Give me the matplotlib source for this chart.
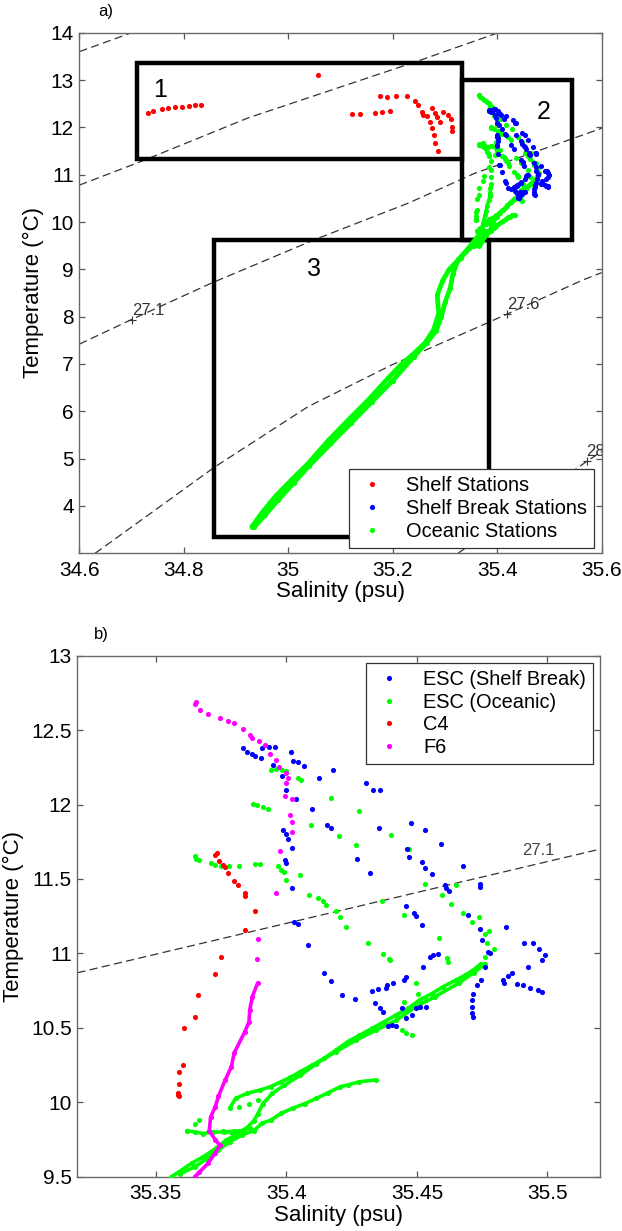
import matplotlib
matplotlib.use("Agg")
import matplotlib.pyplot as plt
from matplotlib.lines import Line2D
from matplotlib.patches import Rectangle
from matplotlib.ticker import FuncFormatter

plt.rcParams['font.family'] = ['Liberation Sans', 'DejaVu Sans']

# ---------------- data ----------------
# ESC shelf break stations (blue)
sb_S = [35.3835,35.3848,35.3867,35.388,35.3905,35.3933,35.3956,35.3902,35.3949,35.4017,35.4026,35.4045,35.4068,
        35.3985,35.3997,35.4036,35.4125,35.4177,35.4307,35.4332,35.436,35.41,35.3988,35.4,35.4006,35.402,35.3995,35.40,
        35.402,35.4154,35.417,35.4355,35.4476,35.453,35.4591,35.4464,35.447,35.4521,35.453,35.4556,35.4676,35.427,35.432,
        35.4606,35.4613,35.4622,35.474,35.474,35.4457,35.4489,35.4498,35.452,35.4695,35.4842,35.4743,35.4749,35.4772,35.478,
        35.4912,35.4944,35.4969,35.4989,35.498,35.4925,35.4549,35.4562,35.4581,35.4525,35.4762,35.403,35.4045,35.4084,
        35.4145,35.417,35.4866,35.485,35.483,35.4833,35.4882,35.4905,35.4935,35.4965,35.498,35.4745,35.473,35.4715,35.471,
        35.471,35.471,35.4715,35.446,35.445,35.441,35.4387,35.438,35.435,35.433,35.434,35.4357,35.437,35.4212,35.4264,
        35.4443,35.4497,35.451,35.4534,35.448,35.4457,35.4406,35.439,35.442]
sb_T = [12.377,12.354,12.34,12.325,12.377,12.388,12.388,12.316,12.264,12.35,12.293,12.283,12.258,
        12.19,12.10,12.04,12.18,12.23,12.145,12.10,12.096,11.97,11.83,11.80,11.77,11.71,11.63,11.61,
        11.44,11.86,11.84,11.84,11.876,11.83,11.733,11.704,11.647,11.614,11.576,11.536,11.585,11.634,11.54,
        11.457,11.44,11.417,11.464,11.445,11.316,11.27,11.248,11.188,11.255,11.176,11.165,11.087,11.008,11.0,
        11.071,11.071,11.031,10.986,10.955,10.91,10.975,10.986,10.997,10.91,10.91,11.213,11.197,11.056,
        10.87,10.816,10.866,10.848,10.82,10.80,10.795,10.79,10.77,10.754,10.742,10.82,10.787,10.73,10.687,
        10.642,10.597,10.575,10.84,10.82,10.80,10.787,10.77,10.758,10.75,10.664,10.63,10.608,10.72,10.693,
        10.63,10.63,10.642,10.642,10.586,10.563,10.52,10.512,10.512]

# ESC oceanic stations (green), scattered points
oc_S = [35.3652,35.3653,35.3667,35.3713,35.3728,35.375,35.378,35.3819,35.388,35.390,
        35.3873,35.3886,35.3909,35.393,35.3943,35.3962,35.3982,35.4,35.4045,35.4058,
        35.417,35.4278,35.4096,35.42,35.4268,35.4402,35.397,35.3978,35.399,35.4,35.4054,
        35.4085,35.4123,35.414,35.4153,35.419,35.4206,35.423,35.4313,35.4397,
        35.4368,35.4449,35.4468,35.453,35.4648,35.4596,35.4632,35.4676,35.4712,35.4736,35.4585,35.4759,35.4768,
        35.4778,35.4797,35.4759,35.437,35.4393,35.4615,35.4618,35.4497,35.4505,35.4534,35.445,35.4443,35.4457,35.448,
        35.362,35.365,35.3667,35.3757,35.3788,35.3818,35.382,35.3856,35.389]
oc_T = [11.652,11.634,11.63,11.61,11.596,11.59,11.59,11.59,11.603,11.603,
        12.007,11.995,11.984,11.968,12.235,12.24,12.235,12.226,12.18,12.168,
        12.047,11.955,11.865,11.79,11.73,11.793,11.585,11.56,11.55,11.49,11.53,
        11.395,11.372,11.35,11.328,11.283,11.246,11.18,11.067,10.955,
        11.351,11.257,11.70,11.468,11.457,11.39,11.33,11.27,11.21,11.243,11.103,11.13,11.069,
        11.15,11.031,10.975,10.993,10.964,10.97,10.944,10.80,10.73,10.687,10.675,10.485,10.463,10.45,
        9.81,9.857,9.88,9.81,9.80,9.81,9.97,9.99,10.015]

# ESC oceanic dense profile bands (green)
band1_S = [35.4745,35.4717,35.4685,35.4648,35.46,35.4557,35.451,35.4466,35.442,35.4374,35.4328,35.428,35.4235,
           35.419,35.4144,35.41,35.4053,35.4015,35.398,35.394,35.39,35.385,35.3806,35.3783]
band1_T = [10.93,10.89,10.854,10.82,10.776,10.73,10.687,10.63,10.586,10.54,10.496,10.45,10.407,
           10.35,10.295,10.25,10.205,10.167,10.138,10.105,10.082,10.06,10.026,9.96]
band2_S = [35.4762,35.4717,35.466,35.457,35.4497,35.442,35.4344,35.4268,35.419,35.4115,35.4053,35.3993,35.3947,
           35.391,35.389,35.3876,35.3852,35.3815,35.377,35.373,35.3682,35.3637,35.359,35.356]
band2_T = [10.93,10.87,10.80,10.71,10.642,10.55,10.485,10.418,10.34,10.26,10.18,10.116,10.06,
           9.99,9.92,9.877,9.834,9.79,9.746,9.69,9.634,9.59,9.534,9.50]
band3_S = [35.4344,35.428,35.4235,35.4207,35.416,35.4115,35.407,35.4024,35.398,35.394,35.3906,35.3876,35.383,
           35.3785,35.374,35.3694,35.365,35.3594]
band3_T = [10.15,10.138,10.116,10.105,10.064,10.026,9.99,9.96,9.925,9.88,9.858,9.81,9.78,
           9.735,9.68,9.62,9.567,9.52]
band4_S = [35.362,35.365,35.368,35.372,35.376,35.380,35.3835,35.386]
band4_T = [9.81,9.80,9.79,9.80,9.80,9.805,9.81,9.83]

# C4 (red)
c4_S = [35.3728,35.3735,35.3743,35.3758,35.3766,35.3778,35.380,35.3816,35.384,35.384,35.388,35.3842,35.375,
        35.3728,35.366,35.3652,35.361,35.3606,35.359,35.359,35.3587,35.3584,35.359]
c4_T = [11.663,11.674,11.618,11.596,11.58,11.54,11.484,11.462,11.406,11.388,11.283,11.16,10.978,
        10.86,10.72,10.57,10.496,10.25,10.205,10.12,10.064,10.05,10.04]

# F6 (magenta): upper scattered part and lower continuous profile
f6_S = [35.3656,35.365,35.3669,35.370,35.3746,35.3777,35.380,35.3835,35.386,35.3867,35.3896,35.3918,35.3937,
        35.396,35.3971,35.400,35.4007,35.400,35.3994,35.402,35.4016,35.4021,35.402,35.3976,35.396,35.389,35.3889]
f6_T = [12.69,12.675,12.635,12.61,12.58,12.56,12.545,12.507,12.466,12.444,12.43,12.40,12.34,
        12.30,12.253,12.215,12.18,12.144,12.056,12.04,11.933,11.883,11.815,11.69,11.406,11.094,10.96]
f6p_S = [35.389,35.387,35.386,35.3857,35.384,35.380,35.379,35.3766,35.374,35.3728,35.371,35.3705,35.3728,
         35.3746,35.3728,35.370,35.3667,35.3649]
f6p_T = [10.80,10.71,10.62,10.54,10.47,10.33,10.24,10.15,10.04,9.97,9.90,9.81,9.747,
         9.71,9.66,9.59,9.53,9.50]

# Shelf stations (red, panel a)
sh_S = [34.732,34.74,34.759,34.77,34.783,34.796,34.809,34.821,34.833,35.056,
        35.121,35.137,35.166,35.179,35.195,35.176,35.188,35.207,35.227,35.243,35.249,35.255,35.265,35.271,
        35.275,35.278,35.281,35.286,35.275,35.28,35.284,35.29,35.297,35.305,35.311,35.313,35.314,35.258]
sh_T = [12.31,12.34,12.38,12.40,12.42,12.44,12.45,12.47,12.47,13.10,
        12.28,12.28,12.31,12.33,12.35,12.66,12.65,12.66,12.66,12.56,12.47,12.33,12.24,12.12,
        11.98,11.84,11.66,11.51,12.40,12.31,12.21,12.12,12.33,12.26,12.17,12.01,11.93,12.26]

# Deep oceanic profiles (green, panel a)
deepA_S = [35.357,35.33,35.308,35.295,35.285,35.288,35.278,35.262,35.243,35.217,35.191,35.153,35.115,35.077,
           35.038,35.006,34.975,34.949,34.93]
deepA_T = [9.55,9.25,9.0,8.75,8.45,8.07,7.72,7.45,7.25,7.0,6.70,6.24,5.82,5.39,4.90,4.55,4.2,3.85,3.56]
deepB_S = [35.368,35.345,35.325,35.315,35.31,35.30,35.293,35.283,35.265,35.24,35.20,35.16,35.12,35.08,35.04,
           35.01,34.98,34.955,34.935]
deepB_T = [9.77,9.45,9.2,8.9,8.6,8.3,8.0,7.7,7.45,7.15,6.65,6.2,5.75,5.3,4.85,4.48,4.12,3.8,3.56]

# Isopycnals (panel a)
iso_lines = {
    '26.1': ([34.6, 34.70], [13.6, 14.0]),
    '26.6': ([34.6, 34.716, 34.923, 35.24, 35.402], [10.78, 11.27, 12.2, 13.37, 14.0]),
    '27.1': ([34.6, 34.7, 34.853, 35.051, 35.23, 35.357, 35.6], [7.42, 7.94, 8.71, 9.63, 10.40, 11.03, 11.98]),
    '27.6': ([34.63, 34.639, 34.86, 35.038, 35.198, 35.357, 35.418, 35.565, 35.6],
             [3.0, 3.07, 4.83, 6.10, 6.98, 7.75, 8.05, 8.78, 8.93]),
    '28.1': ([35.325, 35.571, 35.6], [3.0, 4.94, 5.15]),
}
clab_S = [34.70, 35.418, 35.571]
clab_T = [7.92, 8.05, 4.94]
clab_txt = ['27.1', '27.6', '28.1']

# Isopycnal (panel b)
isob_S = [35.32, 35.52]
isob_T = [10.87, 11.70]
isob_lab = (35.4966, 11.69, '27.1')

# Boxes (panel a)
box_S0 = [34.71, 35.332, 34.858]
box_S1 = [35.332, 35.543, 35.385]
box_T0 = [11.33, 9.61, 3.34]
box_T1 = [13.37, 13.0, 9.61]
box_lab = ['1', '2', '3']
box_lab_S = [34.755, 35.488, 35.05]
box_lab_T = [12.79, 12.33, 9.0]

RED, BLUE, GREEN, MAG = '#ff0000', '#0000ff', '#00ff00', '#ff00ff'
MK = 'o'
MS = 3.7

# ---------------- figure ----------------
fig = plt.figure(figsize=(6.22, 12.31), dpi=100)
W, H = 622.0, 1231.0
ax1 = fig.add_axes([79.4 / W, 1 - 553.3 / H, (601.7 - 79.4) / W, (553.3 - 32.7) / H])
ax2 = fig.add_axes([77.4 / W, 1 - 1176.7 / H, (599.7 - 77.4) / W, (1176.7 - 655.7) / H])

fmt = FuncFormatter(lambda v, p: '%g' % v)
for ax in (ax1, ax2):
    for sp in ax.spines.values():
        sp.set_color('#6a6a6a')
        sp.set_linewidth(1.0)
    ax.tick_params(direction='in', top=True, right=True, length=4, width=0.9,
                   color='#555555', labelsize=15, labelcolor='black')
    ax.tick_params(axis='x', pad=5.5)
    ax.tick_params(axis='y', pad=4)
    ax.xaxis.set_major_formatter(fmt)
    ax.yaxis.set_major_formatter(fmt)
    ax.set_xlabel('Salinity (psu)', fontsize=16, labelpad=1)
    ax.set_ylabel('Temperature (\u00b0C)', fontsize=16, labelpad=5)


def dash(ax, S, T):
    ln, = ax.plot(S, T, color='#333333', lw=0.9, zorder=1)
    ln.set_dashes((6.5, 3.5))


def pts(ax, S, T, c, z=3):
    ax.plot(S, T, linestyle='none', marker=MK, ms=MS, color=c, mec=c, mew=0, zorder=z)


def prof(ax, S, T, c, lw=2.2, z=3):
    ax.plot(S, T, linestyle='-', lw=lw, color=c, marker=MK, ms=MS, mew=0, zorder=z,
            solid_capstyle='round', solid_joinstyle='round')

# ---- panel a ----
ax1.set_xlim(34.6, 35.6)
ax1.set_ylim(3, 14)
ax1.set_xticks([34.6, 34.8, 35.0, 35.2, 35.4, 35.6])
ax1.set_yticks(range(4, 15))
for k, (S, T) in iso_lines.items():
    dash(ax1, S, T)
for s, t, txt in zip(clab_S, clab_T, clab_txt):
    ax1.plot([s], [t], marker='+', ms=6, mew=0.8, color='#333333', zorder=2)
    ax1.annotate(txt, (s, t), xytext=(0, 1.5), textcoords='offset points', ha='left', va='bottom',
                 fontsize=12, color='#333333', zorder=2, annotation_clip=False, clip_on=True)
for s0, s1, t0, t1 in zip(box_S0, box_S1, box_T0, box_T1):
    ax1.add_patch(Rectangle((s0, t0), s1 - s0, t1 - t0, fill=False, ec='black', lw=3.2, zorder=2,
                            joinstyle='miter'))
for s, t, txt in zip(box_lab_S, box_lab_T, box_lab):
    ax1.text(s, t, txt, fontsize=18, ha='center', va='center', zorder=4)

pts(ax1, sh_S, sh_T, RED)
prof(ax1, deepA_S, deepA_T, GREEN, lw=3.4)
prof(ax1, deepB_S, deepB_T, GREEN, lw=3.4)
for S, T in ((band1_S, band1_T), (band2_S, band2_T), (band3_S, band3_T), (band4_S, band4_T), (f6p_S, f6p_T)):
    prof(ax1, S, T, GREEN, lw=2.4)
pts(ax1, oc_S, oc_T, GREEN)
pts(ax1, f6_S, f6_T, GREEN)
pts(ax1, c4_S, c4_T, GREEN)
pts(ax1, sb_S, sb_T, BLUE, z=4)

h1 = [Line2D([], [], ls='none', marker=MK, ms=MS, mew=0, color=c) for c in (RED, BLUE, GREEN)]
leg1 = ax1.legend(h1, ['Shelf Stations', 'Shelf Break Stations', 'Oceanic Stations'],
                  loc='lower right', bbox_to_anchor=(0.986, 0.0108), borderaxespad=0,
                  fontsize=14.4, frameon=True, fancybox=False, framealpha=1, edgecolor='#333333',
                  handlelength=1.6, handletextpad=0.9, labelspacing=0.18, borderpad=0.35)
leg1.get_frame().set_linewidth(0.9)
leg1.set_zorder(10)

# ---- panel b ----
ax2.set_xlim(35.32, 35.52)
ax2.set_ylim(9.5, 13)
ax2.set_xticks([35.35, 35.40, 35.45, 35.50])
ax2.set_yticks([9.5, 10, 10.5, 11, 11.5, 12, 12.5, 13])
dash(ax2, isob_S, isob_T)
ax2.text(isob_lab[0], isob_lab[1], isob_lab[2], fontsize=12, color='#444444', ha='center', va='center')

for S, T in ((band1_S, band1_T), (band2_S, band2_T), (band3_S, band3_T), (band4_S, band4_T)):
    prof(ax2, S, T, GREEN, lw=2.6)
pts(ax2, oc_S, oc_T, GREEN)
pts(ax2, sb_S, sb_T, BLUE)
prof(ax2, f6p_S, f6p_T, MAG, lw=2.6, z=4)
pts(ax2, f6_S, f6_T, MAG, z=4)
pts(ax2, c4_S, c4_T, RED, z=4)

h2 = [Line2D([], [], ls='none', marker=MK, ms=MS, mew=0, color=c) for c in (BLUE, GREEN, RED, MAG)]
leg2 = ax2.legend(h2, ['ESC (Shelf Break)', 'ESC (Oceanic)', 'C4', 'F6'],
                  loc='upper right', bbox_to_anchor=(0.987, 0.986), borderaxespad=0,
                  fontsize=14.4, frameon=True, fancybox=False, framealpha=1, edgecolor='#333333',
                  handlelength=1.6, handletextpad=0.9, labelspacing=0.18, borderpad=0.35)
leg2.get_frame().set_linewidth(0.9)

fig.text(106 / W, 1 - 11.5 / H, 'a)', fontsize=12, ha='center', va='center')
fig.text(101 / W, 1 - 634.5 / H, 'b)', fontsize=12, ha='center', va='center')

fig.savefig('out.png', dpi=100)
